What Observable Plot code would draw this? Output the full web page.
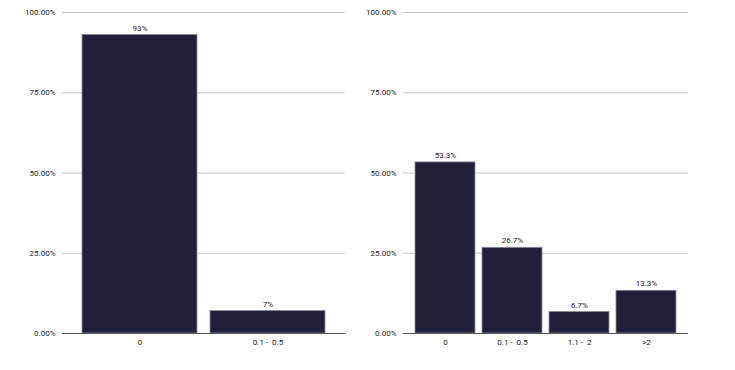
<!DOCTYPE html>
<html><head><meta charset="utf-8">
<script src="https://cdn.jsdelivr.net/npm/d3@7"></script>
<script src="https://cdn.jsdelivr.net/npm/@observablehq/plot@0.6"></script>
<style>
body{margin:0;background:#fff;}
#wrap{display:flex;width:735px;height:370px;}
svg{font-family:Roboto, "Liberation Sans", sans-serif;}
</style></head>
<body><div id="wrap"></div>
<script>
const leftCategories = ["0", "0.1 -  0.5"];
const leftValues = [0.93, 0.07];
const leftLabels = ["93%", "7%"];
const rightCategories = ["0", "0.1 -  0.5", "1.1 -  2", ">2"];
const rightValues = [0.533, 0.267, 0.067, 0.133];
const rightLabels = ["53.3%", "26.7%", "6.7%", "13.3%"];
const yTicks = [0, 0.25, 0.5, 0.75, 1];

function chart(cats, vals, labels, width, ml, mr) {
  const data = cats.map((c, i) => ({cat: c, v: vals[i], label: labels[i]}));
  return Plot.plot({
    width, height: 370,
    marginLeft: ml, marginRight: mr, marginTop: 12, marginBottom: 37,
    style: {fontSize: "8px", color: "#222", background: "#fff"},
    x: {domain: cats, paddingInner: 0.1, paddingOuter: 0.147, label: null, tickSize: 0, tickPadding: 6,
        tickFormat: d => d.replace(/  /g, " \u00a0")},
    y: {domain: [0, 1], ticks: yTicks, tickFormat: d3.format(".2%"), label: null, tickSize: 0, tickPadding: 7},
    marks: [
      Plot.ruleY(yTicks.filter(d => d > 0), {stroke: "#c8c8c8", strokeWidth: 1, strokeOpacity: 1}),
      Plot.barY(data, {x: "cat", y: "v", fill: "#20203a", stroke: "#8c8ca0", strokeWidth: 0.8}),
      Plot.ruleY([0], {stroke: "#555", strokeWidth: 1}),
      Plot.text(data, {x: "cat", y: "v", text: "label", dy: -7, fill: "#222", fontSize: 8})
    ]
  });
}
const wrap = document.getElementById("wrap");
wrap.appendChild(chart(leftCategories, leftValues, leftLabels, 360, 62, 15));
wrap.appendChild(chart(rightCategories, rightValues, rightLabels, 375, 43, 47));
</script></body></html>
